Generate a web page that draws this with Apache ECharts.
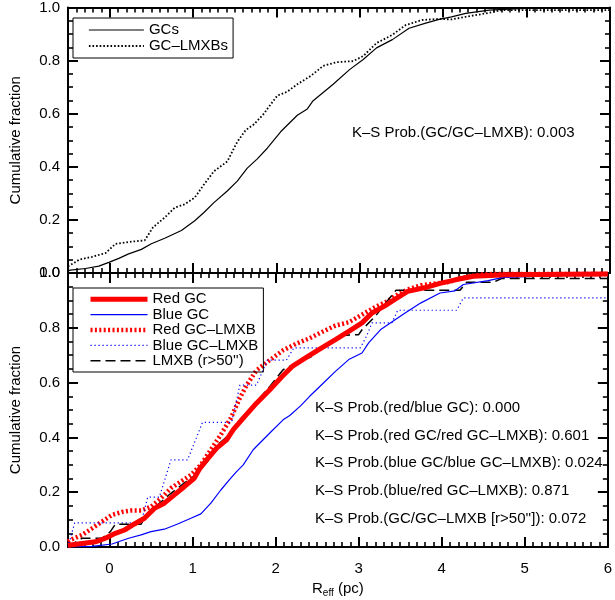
<!DOCTYPE html>
<html>
<head>
<meta charset="utf-8">
<script src="https://cdn.jsdelivr.net/npm/echarts@6/dist/echarts.min.js"></script>
<style>
  html, body { margin: 0; padding: 0; background: #fff; }
  #chart { width: 615px; height: 600px; }
</style>
</head>
<body>
<div id="chart"></div>
<script>
// ---- cumulative distributions of effective radius, [R_eff (pc), fraction] ----
const gcAll = [[-0.5,0.008],[-0.47,0.011],[-0.29,0.017],[-0.13,0.026],[-0.01,0.04],[0.11,0.055],[0.22,0.071],[0.38,0.089],[0.50,0.11],[0.66,0.131],[0.86,0.16],[1.02,0.197],[1.13,0.228],[1.25,0.265],[1.41,0.309],[1.53,0.346],[1.65,0.395],[1.77,0.43],[1.89,0.47],[2.05,0.532],[2.25,0.594],[2.37,0.618],[2.44,0.649],[2.68,0.711],[2.88,0.767],[3.04,0.804],[3.20,0.848],[3.39,0.879],[3.59,0.922],[3.79,0.941],[3.95,0.955],[4.10,0.965],[4.27,0.978],[4.55,0.99],[4.85,0.995],[5.05,0.998],[6.0,0.998]];
const gcLmxbAll = [[-0.5,0.025],[-0.44,0.036],[-0.36,0.051],[-0.21,0.061],[-0.05,0.075],[0.07,0.11],[0.23,0.117],[0.42,0.123],[0.52,0.172],[0.66,0.209],[0.78,0.246],[0.90,0.259],[1.02,0.284],[1.13,0.333],[1.25,0.383],[1.41,0.42],[1.53,0.494],[1.63,0.538],[1.73,0.56],[1.85,0.60],[1.89,0.618],[2.01,0.668],[2.13,0.683],[2.25,0.711],[2.41,0.742],[2.56,0.78],[2.72,0.794],[2.92,0.798],[3.04,0.817],[3.20,0.866],[3.39,0.897],[3.55,0.934],[3.75,0.953],[3.95,0.957],[4.10,0.955],[4.27,0.965],[4.55,0.98],[4.70,0.99],[6.0,0.99]];

const redGc = [[-0.5,0.005],[-0.47,0.007],[-0.33,0.013],[-0.17,0.019],[-0.05,0.032],[0.07,0.05],[0.18,0.062],[0.30,0.084],[0.42,0.105],[0.54,0.141],[0.66,0.16],[0.78,0.19],[0.90,0.22],[1.02,0.251],[1.09,0.288],[1.17,0.318],[1.29,0.361],[1.41,0.391],[1.49,0.428],[1.61,0.47],[1.77,0.525],[1.93,0.574],[2.08,0.623],[2.20,0.659],[2.36,0.69],[2.52,0.72],[2.72,0.757],[2.88,0.787],[3.04,0.818],[3.16,0.854],[3.31,0.879],[3.43,0.903],[3.59,0.933],[3.79,0.946],[3.98,0.962],[4.18,0.976],[4.38,0.988],[4.78,0.994],[6.0,0.996]];
const blueGc = [[-0.5,0.0],[-0.21,0.002],[0.03,0.011],[0.23,0.032],[0.38,0.044],[0.50,0.056],[0.66,0.065],[0.82,0.084],[0.98,0.105],[1.10,0.121],[1.22,0.16],[1.34,0.208],[1.46,0.251],[1.53,0.275],[1.61,0.30],[1.73,0.355],[1.93,0.416],[2.09,0.464],[2.17,0.48],[2.30,0.515],[2.41,0.55],[2.56,0.594],[2.72,0.641],[2.88,0.684],[3.04,0.708],[3.12,0.745],[3.27,0.795],[3.55,0.852],[3.75,0.891],[3.98,0.927],[4.16,0.935],[4.26,0.958],[4.56,0.972],[4.74,0.984],[5.01,0.987],[5.49,0.991],[6.0,0.993]];
const redGcLmxb = [[-0.5,0.02],[-0.47,0.026],[-0.33,0.044],[-0.21,0.068],[-0.09,0.093],[0.03,0.117],[0.15,0.128],[0.26,0.133],[0.38,0.133],[0.50,0.147],[0.62,0.178],[0.74,0.215],[0.86,0.239],[0.98,0.263],[1.10,0.30],[1.22,0.355],[1.34,0.41],[1.46,0.47],[1.57,0.544],[1.65,0.59],[1.77,0.645],[1.93,0.682],[2.09,0.718],[2.25,0.742],[2.41,0.762],[2.56,0.785],[2.72,0.808],[2.88,0.82],[3.04,0.848],[3.20,0.876],[3.35,0.897],[3.43,0.915],[3.59,0.94],[3.75,0.955],[3.99,0.964],[4.10,0.968],[4.23,0.982],[4.46,0.994],[4.6,0.996],[6.0,0.996]];
const blueGcLmxb = [[-0.5,0.0],[-0.42,0.088],[0.38,0.088],[0.46,0.182],[0.60,0.182],[0.74,0.318],[0.94,0.318],[1.12,0.455],[1.47,0.455],[1.57,0.591],[1.77,0.591],[1.90,0.682],[2.13,0.682],[2.22,0.727],[3.02,0.727],[3.10,0.773],[3.16,0.818],[3.40,0.818],[3.47,0.864],[4.18,0.864],[4.26,0.909],[6.0,0.909]];
const lmxbOuter = [[-0.5,0.0],[-0.47,0.007],[-0.33,0.032],[-0.09,0.032],[0.01,0.056],[0.07,0.083],[0.38,0.083],[0.42,0.105],[0.58,0.154],[0.74,0.196],[0.90,0.233],[1.06,0.269],[1.18,0.312],[1.29,0.37],[1.46,0.415],[1.57,0.464],[1.77,0.53],[1.93,0.586],[2.09,0.647],[2.25,0.672],[2.44,0.696],[2.64,0.745],[2.80,0.772],[3.0,0.775],[3.04,0.793],[3.20,0.842],[3.31,0.885],[3.45,0.937],[4.22,0.937],[4.30,0.966],[4.62,0.966],[4.72,0.98],[6.0,0.98]];

// ---- axis ticks and labels ----
const xMin = -0.5, xMax = 6;
const xMajorTicks = [0, 1, 2, 3, 4, 5, 6];
const xMinorTicks = [];
for (let i = -4; i <= 59; i++) { if (i % 10 !== 0) xMinorTicks.push(i / 10); }
const xTickLabels = ['0', '1', '2', '3', '4', '5', '6'];

// ---- annotations ----
const ksTop = 'K–S Prob.(GC/GC–LMXB): 0.003';
const ksBottom = [
  'K–S Prob.(red/blue GC): 0.000',
  'K–S Prob.(red GC/red GC–LMXB): 0.601',
  'K–S Prob.(blue GC/blue GC–LMXB): 0.024',
  'K–S Prob.(blue/red GC–LMXB): 0.871',
  "K–S Prob.(GC/GC–LMXB [r>50'']): 0.072"
];
const topNames = ['GCs', 'GC–LMXBs'];
const bottomNames = ['Red GC', 'Blue GC', 'Red GC–LMXB', 'Blue GC–LMXB', "LMXB (r>50'')"];

const FONT = '"Liberation Sans", Arial, Helvetica, sans-serif';
const BLACK = '#000';

function xAxisPair(grid, position, withLabels, withName) {
  const major = {
    type: 'value', gridIndex: grid, position: position, min: xMin, max: xMax,
    axisLine: { show: true, onZero: false, lineStyle: { color: BLACK, width: 2 } },
    axisTick: { show: true, inside: true, length: 10, customValues: xMajorTicks, lineStyle: { color: BLACK, width: 2 } },
    axisLabel: withLabels ? {
      show: true, customValues: xMajorTicks, margin: 14, color: BLACK, fontSize: 15, fontFamily: FONT,
      formatter: v => xTickLabels[xMajorTicks.indexOf(v)]
    } : { show: false },
    splitLine: { show: false }
  };
  if (withName) {
    major.name = '{r|R}{s|eff}{r| (pc)}';
    major.nameLocation = 'middle';
    major.nameGap = 33;
    major.nameTextStyle = {
      rich: {
        r: { fontSize: 15, fontFamily: FONT, color: BLACK, lineHeight: 18 },
        s: { fontSize: 10, fontFamily: FONT, color: BLACK, lineHeight: 12, verticalAlign: 'bottom' }
      }
    };
  }
  const minor = {
    type: 'value', gridIndex: grid, position: position, min: xMin, max: xMax,
    axisLine: { show: false, onZero: false },
    axisTick: { show: true, inside: true, length: 5, customValues: xMinorTicks, lineStyle: { color: BLACK, width: 1.6 } },
    axisLabel: { show: false },
    splitLine: { show: false }
  };
  return [major, minor];
}

function yAxisOf(grid, position, withLabels) {
  const ax = {
    type: 'value', gridIndex: grid, position: position, min: 0, max: 1, interval: 0.2,
    axisLine: { show: true, onZero: false, lineStyle: { color: BLACK, width: 2 } },
    axisTick: { show: true, inside: true, length: 10, lineStyle: { color: BLACK, width: 2 } },
    minorTick: { show: true, splitNumber: 4, length: 5, lineStyle: { color: BLACK, width: 1.6 } },
    axisLabel: withLabels ? {
      show: true, margin: 8, color: BLACK, fontSize: 15, fontFamily: FONT,
      formatter: v => v.toFixed(1)
    } : { show: false },
    splitLine: { show: false },
    minorSplitLine: { show: false }
  };
  if (withLabels) {
    ax.name = 'Cumulative fraction';
    ax.nameLocation = 'middle';
    ax.nameGap = 45;
    ax.nameTextStyle = { fontSize: 15, fontFamily: FONT, color: BLACK };
  }
  return ax;
}

const xAxes = [].concat(
  xAxisPair(0, 'bottom', false, false),  // 0,1
  xAxisPair(0, 'top', false, false),     // 2,3
  xAxisPair(1, 'bottom', true, true),    // 4,5
  xAxisPair(1, 'top', false, false)      // 6,7
);
const yAxes = [
  yAxisOf(0, 'left', true),   // 0
  yAxisOf(0, 'right', false), // 1
  yAxisOf(1, 'left', true),   // 2
  yAxisOf(1, 'right', false)  // 3
];

function lineSeries(name, data, xi, yi, color, width, dash) {
  return {
    type: 'line', name: name, data: data, xAxisIndex: xi, yAxisIndex: yi,
    symbol: 'none', showSymbol: false, silent: true, z: 3,
    lineStyle: { color: color, width: width, type: dash || 'solid', cap: 'butt' },
    itemStyle: { color: color }
  };
}

const series = [
  lineSeries(topNames[0], gcAll, 0, 0, BLACK, 1.2),
  lineSeries(topNames[1], gcLmxbAll, 0, 0, BLACK, 1.8, [1.6, 2]),
  lineSeries(bottomNames[2], redGcLmxb, 4, 2, '#ff0000', 4.5, [2, 2.4]),
  lineSeries(bottomNames[3], blueGcLmxb, 4, 2, '#0000ff', 1.2, [1.2, 2.8]),
  lineSeries(bottomNames[4], lmxbOuter, 4, 2, BLACK, 1.5, [10, 5]),
  lineSeries(bottomNames[1], blueGc, 4, 2, '#0000ff', 1.2),
  lineSeries(bottomNames[0], redGc, 4, 2, '#ff0000', 5)
];

const legendText = { fontSize: 15, fontFamily: FONT, color: BLACK };
// legend keys show only the line sample
const hiddenMarker = { color: 'rgba(0,0,0,0)', borderWidth: 0, opacity: 0 };

const option = {
  animation: false,
  backgroundColor: '#fff',
  grid: [
    { left: 63, right: 5, top: 4, height: 269, containLabel: false },
    { left: 63, right: 5, top: 273, height: 274, containLabel: false }
  ],
  xAxis: xAxes,
  yAxis: yAxes,
  legend: [
    {
      data: topNames, orient: 'vertical', left: 73, top: 18,
      padding: [4, 5, 4, 15], borderColor: BLACK, borderWidth: 1,
      itemWidth: 55, itemHeight: 16, itemGap: 0, selectedMode: false,
      itemStyle: hiddenMarker,
      lineStyle: { width: 'inherit' },
      textStyle: Object.assign({ lineHeight: 16 }, legendText)
    },
    {
      data: bottomNames, orient: 'vertical', left: 73, top: 288,
      padding: [3.5, 5, 3.5, 15], borderColor: BLACK, borderWidth: 1,
      itemWidth: 57, itemHeight: 15.4, itemGap: 0, selectedMode: false,
      itemStyle: hiddenMarker,
      lineStyle: { width: 'inherit' },
      textStyle: Object.assign({ lineHeight: 15.4 }, legendText)
    }
  ],
  graphic: [
    { type: 'text', x: 352, y: 133, silent: true,
      style: { text: ksTop, fontSize: 15, fontFamily: FONT, fill: BLACK, verticalAlign: 'middle' } }
  ].concat(ksBottom.map((t, i) => ({
    type: 'text', x: 315, y: 408 + i * 27.6, silent: true,
    style: { text: t, fontSize: 15, fontFamily: FONT, fill: BLACK, verticalAlign: 'middle' }
  }))),
  series: series
};

const chart = echarts.init(document.getElementById('chart'), null, { renderer: 'canvas' });
chart.setOption(option);
</script>
</body>
</html>
